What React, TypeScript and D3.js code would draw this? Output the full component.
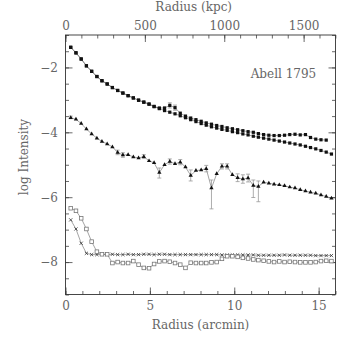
import { useEffect, useRef } from "react";
import * as d3 from "d3";

// radial bins (arcmin) shared by all profiles
const radiusArcmin = [
  0.31, 0.62, 0.93, 1.24, 1.55, 1.86, 2.16, 2.47, 2.78, 3.09,
  3.4, 3.71, 4.02, 4.33, 4.64, 4.95, 5.25, 5.56, 5.87, 6.18,
  6.49, 6.8, 7.11, 7.42, 7.73, 8.04, 8.34, 8.65, 8.96, 9.27,
  9.58, 9.89, 10.2, 10.51, 10.82, 11.13, 11.43, 11.74, 12.05, 12.36,
  12.67, 12.98, 13.29, 13.6, 13.91, 14.22, 14.52, 14.83, 15.14, 15.45,
  15.76,
];
const kpcPerArcmin = 106.3;

// filled squares, upper run (stops one bin early)
const totalProfile = [
  -1.38, -1.55, -1.74, -1.95, -2.12, -2.28, -2.41, -2.51, -2.62, -2.71,
  -2.79, -2.87, -2.94, -3.01, -3.07, -3.13, -3.21, -3.25, -3.25, -3.17,
  -3.24, -3.41, -3.5, -3.56, -3.61, -3.66, -3.71, -3.75, -3.79, -3.82,
  -3.86, -3.89, -3.92, -3.95, -3.98, -4.0, -4.04, -4.07, -4.09, -4.1,
  -4.1, -4.09, -4.07, -4.06, -4.08, -4.07, -4.16, -4.21, -4.23, -4.24,
];
const totalErrors = [
  [19, 0.08, 0.08],
  [20, 0.08, 0.08],
];

// filled squares, lower run
const clusterProfile = [
  -1.38, -1.55, -1.74, -1.95, -2.12, -2.28, -2.41, -2.51, -2.62, -2.71,
  -2.79, -2.87, -2.94, -3.01, -3.07, -3.13, -3.2, -3.27, -3.33, -3.38,
  -3.43, -3.49, -3.55, -3.61, -3.67, -3.73, -3.78, -3.83, -3.87, -3.91,
  -3.94, -3.98, -4.01, -4.05, -4.08, -4.12, -4.15, -4.18, -4.21, -4.24,
  -4.27, -4.3, -4.33, -4.36, -4.39, -4.43, -4.47, -4.51, -4.56, -4.61,
  -4.67,
];

// triangles
const hardProfile = [
  -3.55, -3.6, -3.73, -3.9, -4.05, -4.18, -4.28, -4.36, -4.45, -4.62,
  -4.7, -4.69, -4.76, -4.79, -4.75, -4.88, -4.94, -5.24, -5.0, -4.9,
  -4.97, -4.92, -5.07, -5.33, -5.18, -5.16, -5.12, -5.72, -5.28, -5.05,
  -5.05, -5.31, -5.4, -5.44, -5.41, -5.64, -5.67, -5.54, -5.57, -5.6,
  -5.62, -5.65, -5.69, -5.72, -5.77, -5.81, -5.85, -5.88, -5.93, -5.98,
  -6.03,
];
// [bin index, up, down]
const hardErrors = [
  [0, 0.05, 0.03],
  [9, 0.07, 0.07],
  [10, 0.07, 0.07],
  [14, 0.06, 0.06],
  [17, 0.14, 0.17],
  [19, 0.08, 0.08],
  [21, 0.08, 0.08],
  [23, 0.17, 0.17],
  [26, 0.1, 0.1],
  [27, 0.25, 0.64],
  [29, 0.08, 0.08],
  [30, 0.08, 0.08],
  [32, 0.12, 0.12],
  [33, 0.13, 0.13],
  [34, 0.12, 0.12],
  [35, 0.17, 0.37],
  [36, 0.17, 0.47],
];

// crosses
const crossProfile = [
  -6.7, -6.98, -7.42, -7.73, -7.77, -7.77, -7.76, -7.77, -7.76, -7.77,
  -7.77, -7.76, -7.77, -7.77, -7.76, -7.76, -7.77, -7.76, -7.76, -7.77,
  -7.77, -7.77, -7.77, -7.77, -7.77, -7.77, -7.77, -7.77, -7.77, -7.78,
  -7.78, -7.78, -7.78, -7.78, -7.78, -7.78, -7.79, -7.79, -7.79, -7.79,
  -7.79, -7.78, -7.79, -7.79, -7.79, -7.79, -7.79, -7.8, -7.8, -7.8,
  -7.8,
];

// open squares
const openProfile = [
  -6.34, -6.42, -6.65, -6.98, -7.37, -7.68, -7.76, -7.76, -8.03, -8.0,
  -8.03, -8.03, -7.97, -8.08, -8.18, -8.19, -8.06, -7.98, -7.97, -7.99,
  -8.03, -8.08, -8.18, -8.02, -8.03, -8.03, -8.03, -8.01, -8.0, -7.9,
  -7.82, -7.82, -7.84, -7.87, -7.89, -7.92, -7.94, -7.96, -7.98, -8.0,
  -7.98, -8.0, -7.99, -8.0, -8.01, -8.01, -8.01, -8.0, -7.97, -7.96,
  -7.97,
];

const arcminMajor = [0, 5, 10, 15];
const kpcMajor = [0, 500, 1000, 1500];
const logMajor = [-8, -6, -4, -2];

const FONT = "'DejaVu Serif', serif";
const FONT_SIZE = "12px";
const INK = "#666";

export default function App() {
  const ref = useRef<SVGSVGElement>(null);

  useEffect(() => {
    const width = 354;
    const height = 354;
    const margin = { top: 35, right: 18.5, bottom: 59.5, left: 65.5 };

    const svg = d3.select(ref.current);
    svg.selectAll("*").remove();

    const x = d3.scaleLinear().domain([0, 16]).range([margin.left, width - margin.right]);
    const y = d3.scaleLinear().domain([-9, -1]).range([height - margin.bottom, margin.top]);
    const xKpc = d3.scaleLinear().domain([0, 16 * kpcPerArcmin]).range(x.range());
    const x0 = margin.left;
    const x1 = width - margin.right;
    const y0 = height - margin.bottom;
    const y1 = margin.top;

    const styleAxis = (g: any) => {
      g.attr("font-family", null).attr("font-size", null);
      g.select(".domain").remove();
      g.selectAll("line").attr("stroke", "#444").attr("stroke-width", 0.8);
      g.selectAll("text").attr("fill", INK)
        .style("font-family", FONT).style("font-size", FONT_SIZE);
    };
    const noLabel = () => "";

    // bottom
    svg.append("g").attr("transform", `translate(0,${y0})`)
      .call(d3.axisBottom(x).tickValues(d3.range(0, 17)).tickSize(-3.5).tickFormat(noLabel))
      .call(styleAxis);
    svg.append("g").attr("transform", `translate(0,${y0})`)
      .call(d3.axisBottom(x).tickValues(arcminMajor).tickSize(-7).tickPadding(6.5).tickFormat(d3.format("d")))
      .call(styleAxis);

    // top
    svg.append("g").attr("transform", `translate(0,${y1})`)
      .call(d3.axisTop(xKpc).tickValues(d3.range(0, 1701, 100)).tickSize(-3.5).tickFormat(noLabel))
      .call(styleAxis);
    svg.append("g").attr("transform", `translate(0,${y1})`)
      .call(d3.axisTop(xKpc).tickValues(kpcMajor).tickSize(-7).tickPadding(5.5).tickFormat(d3.format("d")))
      .call(styleAxis);

    // left / right
    const halfSteps = d3.range(-9, -0.99, 0.5);
    svg.append("g").attr("transform", `translate(${x0},0)`)
      .call(d3.axisLeft(y).tickValues(halfSteps).tickSize(-3.5).tickFormat(noLabel))
      .call(styleAxis);
    svg.append("g").attr("transform", `translate(${x0},0)`)
      .call(d3.axisLeft(y).tickValues(logMajor).tickSize(-7).tickPadding(7.5).tickFormat(d3.format("d")))
      .call(styleAxis);
    svg.append("g").attr("transform", `translate(${x1},0)`)
      .call(d3.axisRight(y).tickValues(halfSteps).tickSize(-3.5).tickFormat(noLabel))
      .call(styleAxis);
    svg.append("g").attr("transform", `translate(${x1},0)`)
      .call(d3.axisRight(y).tickValues(logMajor).tickSize(-7).tickFormat(noLabel))
      .call(styleAxis);

    svg.append("rect")
      .attr("x", x0).attr("y", y1).attr("width", x1 - x0).attr("height", y0 - y1)
      .attr("fill", "none").attr("stroke", "#333").attr("stroke-width", 0.9);

    // titles
    const text = (tx: number, ty: number, s: string, anchor = "middle") =>
      svg.append("text").attr("x", tx).attr("y", ty).attr("text-anchor", anchor)
        .style("font-family", FONT).style("font-size", FONT_SIZE).attr("fill", INK).text(s);
    text(193.7, 11, "Radius (kpc)");
    text((x0 + x1) / 2, 328.5, "Radius (arcmin)");
    text(250.7, 77.5, "Abell 1795", "start");
    text(0, 0, "log Intensity").attr("transform", "translate(27.5,157) rotate(-90)");

    const plot = svg.append("g");
    const line = d3.line<number>().x((_, i) => x(radiusArcmin[i])).y((d) => y(d));
    [totalProfile, clusterProfile, hardProfile, crossProfile, openProfile].forEach((vals) => {
      plot.append("path").attr("d", line(vals)).attr("fill", "none")
        .attr("stroke", "#666").attr("stroke-width", 0.6);
    });

    const errBars = (errs: number[][], vals: number[]) => {
      errs.forEach(([i, up, dn]) => {
        const cx = x(radiusArcmin[i]);
        const yt = y(vals[i] + up);
        const yb = y(vals[i] - dn);
        const g = plot.append("g").attr("stroke", "#999").attr("stroke-width", 0.8);
        g.append("line").attr("x1", cx).attr("x2", cx).attr("y1", yt).attr("y2", yb);
        g.append("line").attr("x1", cx - 2).attr("x2", cx + 2).attr("y1", yt).attr("y2", yt);
        g.append("line").attr("x1", cx - 2).attr("x2", cx + 2).attr("y1", yb).attr("y2", yb);
      });
    };
    errBars(totalErrors, totalProfile);
    errBars(hardErrors, hardProfile);

    const squares = (vals: number[]) =>
      plot.append("g").selectAll("rect").data(vals).join("rect")
        .attr("x", (_, i) => x(radiusArcmin[i]) - 1.6)
        .attr("y", (d) => y(d) - 1.6)
        .attr("width", 3.2).attr("height", 3.2).attr("fill", "#111");
    squares(totalProfile);
    squares(clusterProfile);

    plot.append("g").selectAll("path").data(hardProfile).join("path")
      .attr("transform", (d, i) => `translate(${x(radiusArcmin[i])},${y(d)})`)
      .attr("d", d3.symbol(d3.symbolTriangle, 8)())
      .attr("fill", "#111");

    plot.append("g").selectAll("path").data(crossProfile).join("path")
      .attr("transform", (d, i) => `translate(${x(radiusArcmin[i])},${y(d)})`)
      .attr("d", d3.symbol(d3.symbolTimes, 8)())
      .attr("fill", "none").attr("stroke", "#333").attr("stroke-width", 0.8);

    plot.append("g").selectAll("rect").data(openProfile).join("rect")
      .attr("x", (_, i) => x(radiusArcmin[i]) - 1.8)
      .attr("y", (d) => y(d) - 1.8)
      .attr("width", 3.6).attr("height", 3.6)
      .attr("fill", "#fff").attr("stroke", "#777").attr("stroke-width", 0.8);
  }, []);

  return (
    <svg
      ref={ref}
      width={354}
      height={354}
      style={{ position: "absolute", left: 0, top: 0, background: "#fff" }}
    />
  );
}
